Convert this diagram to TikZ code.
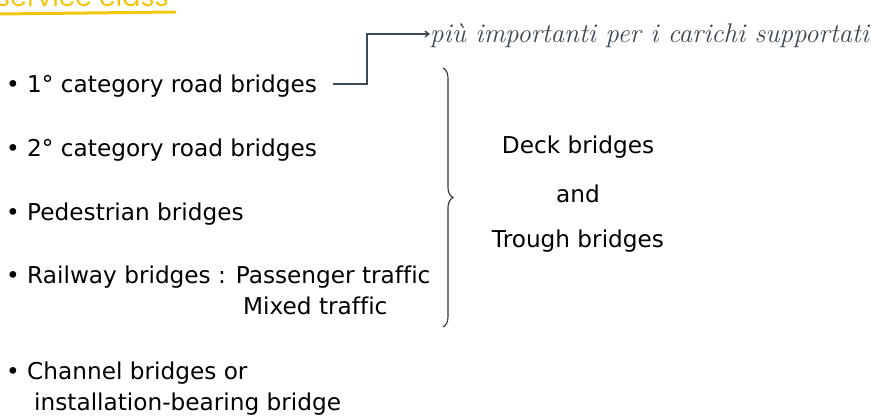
\documentclass[tikz,border=0pt]{standalone}
\usepackage{fontspec}
\setmainfont{DejaVu Sans}[Ligatures=NoCommon]
\usetikzlibrary{decorations.pathreplacing,arrows.meta}
\definecolor{hand}{HTML}{3C4852}
\definecolor{yel}{HTML}{F2C511}
\tikzset{
  item/.style={anchor=base west, inner sep=0pt, font=\fontsize{23.2}{28}\selectfont},
  deck/.style={anchor=center, inner sep=0pt, font=\fontsize{23.2}{28}\selectfont},
  note/.style={anchor=base west, inner sep=0pt, text=hand, font=\fontspec{Latin Modern Roman}\itshape\fontsize{27}{30}\selectfont},
}
\begin{document}
\begin{tikzpicture}[x=1pt,y=-1pt]
\useasboundingbox (0,0) rectangle (875,416);
\begin{scope}
\clip (0,0) rectangle (875,416);
\node[anchor=base west, inner sep=0pt, text=yel, font=\fontspec{Poppins}\fontsize{27}{27}\selectfont] (title) at (-4,6) {service class};
\draw[yel, line width=3pt, line cap=round] (-2,14) -- (175,12);
\end{scope}
\node[item] (i1) at (6,92) {\textbullet\ 1° category road bridges};
\node[item] (i2) at (6,156) {\textbullet\ 2° category road bridges};
\node[item] (i3) at (6,220) {\textbullet\ Pedestrian bridges};
\node[item] (i4) at (6,283) {\textbullet\ Railway bridges : Passenger traffic};
\node[item] (i4b) at (243,314) {Mixed traffic};
\node[item] (i5) at (6,379) {\textbullet\ Channel bridges or};
\node[item] (i5b) at (34,410) {installation-bearing bridge};
\node[deck] (d1) at (578,147) {Deck bridges};
\node[deck] (d2) at (578,194) {and};
\node[deck] (d3) at (578,241) {Trough bridges};
\coordinate (bt) at (443,68);
\coordinate (bb) at (443,327);
\draw[black!80, line width=1.1pt, decorate, decoration={brace, amplitude=10pt}] (bt) -- (bb);
\node[note] (n) at (430,42) {più importanti per i carichi supportati};
\coordinate (a0) at (333,84);
\draw[hand, line width=1.3pt, -{Straight Barb[length=4pt,width=6pt]}] (a0) -- (367,84) -- (367,34) -- (n.west |- 0,34);
\end{tikzpicture}
\end{document}
